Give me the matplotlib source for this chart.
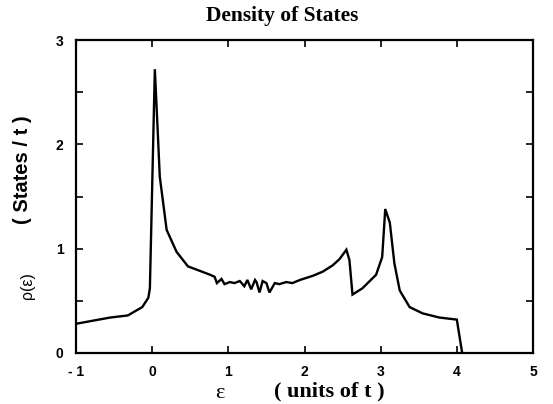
import matplotlib
matplotlib.use("Agg")
import matplotlib.pyplot as plt

# energy (units of t) and density of states
eps = [-1.0, -0.55, -0.32, -0.13, -0.05, -0.03, 0.035, 0.06, 0.10, 0.19,
       0.32, 0.47, 0.58, 0.76, 0.82, 0.85, 0.91, 0.95, 1.02, 1.08,
       1.15, 1.21, 1.25, 1.30, 1.35, 1.37, 1.41, 1.45, 1.50, 1.54,
       1.61, 1.67, 1.76, 1.84, 1.94, 2.11, 2.24, 2.37, 2.46, 2.55,
       2.59, 2.63, 2.76, 2.94, 3.02, 3.06, 3.12, 3.18, 3.25, 3.38,
       3.55, 3.77, 4.0, 4.07]
dos = [0.28, 0.34, 0.36, 0.44, 0.53, 0.62, 2.72, 2.33, 1.69, 1.18,
       0.97, 0.83, 0.80, 0.75, 0.73, 0.67, 0.71, 0.66, 0.68, 0.67,
       0.69, 0.64, 0.70, 0.61, 0.70, 0.68, 0.58, 0.69, 0.67, 0.58,
       0.67, 0.66, 0.68, 0.67, 0.70, 0.74, 0.78, 0.84, 0.90, 0.99,
       0.89, 0.56, 0.62, 0.75, 0.92, 1.38, 1.25, 0.86, 0.60, 0.44,
       0.38, 0.34, 0.32, 0.0]

xticks = [-1, 0, 1, 2, 3, 4, 5]
xticklabels = ["- 1", "0", "1", "2", "3", "4", "5"]
yticks = [0, 0.5, 1, 1.5, 2, 2.5, 3]
yticklabels = ["0", "", "1", "", "2", "", "3"]

serif = ["Liberation Serif", "DejaVu Serif"]
sans = ["Liberation Sans", "DejaVu Sans"]

fig = plt.figure(figsize=(5.53, 4.04), dpi=100)
ax = fig.add_axes([76 / 553, 51 / 404, 457 / 553, 313 / 404])

ax.plot(eps, dos, color="black", lw=1.7, solid_joinstyle="miter")

ax.set_xlim(-1, 5)
ax.set_ylim(0, 3)
ax.set_xticks(xticks)
ax.set_xticklabels(xticklabels, family=sans, fontweight="bold", fontsize=10)
ax.set_yticks(yticks)
ax.set_yticklabels(yticklabels, family=sans, fontweight="bold", fontsize=10)
ax.tick_params(direction="in", length=5, width=1.2, top=True, right=True, pad=9)
for s in ax.spines.values():
    s.set_linewidth(1.6)

# title and axis labels (two pieces each, as in the original)
fig.text(282 / 553, 1 - 16 / 404, "Density of States", family=serif, fontweight="bold",
         fontsize=15.5, ha="center", va="center")
fig.text(220 / 553, 1 - 393 / 404, "ε", family=serif, fontsize=16,
         ha="center", va="center")
fig.text(329 / 553, 1 - 391 / 404, "( units of t )", family=serif, fontweight="bold",
         fontsize=16, ha="center", va="center")
fig.text(23 / 553, 1 - 170 / 404, "( States / t )", family=sans, fontweight="bold",
         fontsize=14.5, rotation=90, ha="center", va="center")
fig.text(27 / 553, 1 - 286 / 404, "ρ(ε)", family=sans, fontsize=11.5,
         rotation=90, ha="center", va="center")

fig.savefig("out.png", dpi=100)
